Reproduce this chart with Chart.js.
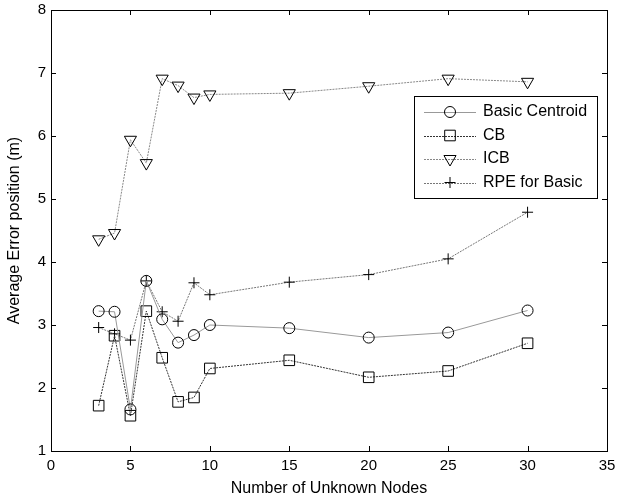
<!DOCTYPE html>
<html>
<head>
<meta charset="utf-8">
<script src="https://cdn.jsdelivr.net/npm/chart.js@4"></script>
<style>
  html, body { margin: 0; padding: 0; background: #fff; }
  #wrap { width: 617px; height: 498px; }
</style>
</head>
<body>
<div id="wrap"><canvas id="chart" width="617" height="498"></canvas></div>
<script>
// 未知节点数量
const nodeCounts = [3, 4, 5, 6, 7, 8, 9, 10, 15, 20, 25, 30];
// 各算法平均定位误差 (m)
const basicCentroid = [3.22, 3.21, 1.66, 3.70, 3.09, 2.72, 2.84, 3.00, 2.95, 2.80, 2.88, 3.23];
const cbError = [1.72, 2.83, 1.56, 3.22, 2.48, 1.78, 1.85, 2.31, 2.44, 2.17, 2.27, 2.71];
const icbError = [4.36, 4.46, 5.94, 5.57, 6.91, 6.80, 6.61, 6.66, 6.68, 6.79, 6.91, 6.86];
const rpeBasic = [2.96, 2.86, 2.76, 3.70, 3.21, 3.06, 3.67, 3.48, 3.68, 3.80, 4.05, 4.79];
const seriesNames = ['Basic Centroid', 'CB', 'ICB', 'RPE for Basic'];
const xTicks = [0, 5, 10, 15, 20, 25, 30, 35];
const yTicks = [1, 2, 3, 4, 5, 6, 7, 8];

const FONT = 'Liberation Sans, Arial, sans-serif';

const toPoints = vals => vals.map((v, i) => ({ x: nodeCounts[i], y: v }));

// MATLAB 风格：黑色空心标记 + 细线
const makeSet = (label, vals, opts) => Object.assign({
    label,
    data: toPoints(vals),
    showLine: true,
    borderWidth: 1,
    pointBorderColor: '#000',
    pointBackgroundColor: 'rgba(0,0,0,0)',
    pointBorderWidth: 1,
    pointHoverRadius: 0,
    tension: 0
}, opts);

const datasets = [
    makeSet(seriesNames[0], basicCentroid, { borderColor: '#999', pointStyle: 'circle', pointRadius: 5.5 }),
    makeSet(seriesNames[1], cbError, { borderColor: '#333', borderDash: [2, 1], pointStyle: 'rect', pointRadius: 7.5 }),
    makeSet(seriesNames[2], icbError, { borderColor: '#888', borderDash: [2, 1], pointStyle: 'triangle', pointRotation: 180, pointRadius: 7 }),
    makeSet(seriesNames[3], rpeBasic, { borderColor: '#777', borderDash: [2, 1], pointStyle: 'cross', pointRadius: 5.5 })
];

// 坐标框和向内的刻度线
const framePlugin = {
    id: 'frame',
    beforeDatasetsDraw(chart) {
        const { ctx, chartArea: a, scales } = chart;
        ctx.save();
        ctx.strokeStyle = '#000';
        ctx.lineWidth = 1;
        ctx.beginPath();
        const tl = 5;
        xTicks.forEach(t => {
            const px = Math.round(scales.x.getPixelForValue(t)) + 0.5;
            ctx.moveTo(px, a.bottom); ctx.lineTo(px, a.bottom - tl);
            ctx.moveTo(px, a.top); ctx.lineTo(px, a.top + tl);
        });
        yTicks.forEach(t => {
            const py = Math.round(scales.y.getPixelForValue(t)) + 0.5;
            ctx.moveTo(a.left, py); ctx.lineTo(a.left + tl, py);
            ctx.moveTo(a.right, py); ctx.lineTo(a.right - tl, py);
        });
        ctx.stroke();
        ctx.strokeRect(Math.round(a.left) + 0.5, Math.round(a.top) + 0.5,
            Math.round(a.right - a.left), Math.round(a.bottom - a.top));
        ctx.restore();
    }
};

// 图例：线段 + 空心标记 + 文字
const legendPlugin = {
    id: 'matlabLegend',
    afterDatasetsDraw(chart) {
        const { ctx } = chart;
        const box = { x: 414, y: 96, w: 183, h: 102 };
        ctx.save();
        ctx.fillStyle = '#fff';
        ctx.fillRect(box.x, box.y, box.w, box.h);
        ctx.strokeStyle = '#000';
        ctx.lineWidth = 1;
        ctx.strokeRect(box.x + 0.5, box.y + 0.5, box.w, box.h);
        ctx.font = '16px ' + FONT;
        ctx.textBaseline = 'middle';
        chart.data.datasets.forEach((ds, i) => {
            const cy = box.y + 16 + i * 23.5;
            ctx.save();
            ctx.strokeStyle = ds.borderColor;
            ctx.setLineDash(ds.borderDash || []);
            ctx.beginPath();
            ctx.moveTo(box.x + 10, Math.round(cy) + 0.5);
            ctx.lineTo(box.x + 62, Math.round(cy) + 0.5);
            ctx.stroke();
            ctx.restore();
            ctx.save();
            ctx.strokeStyle = '#000';
            ctx.fillStyle = 'rgba(0,0,0,0)';
            ctx.lineWidth = 1;
            Chart.helpers.drawPoint(ctx, {
                pointStyle: ds.pointStyle,
                rotation: ds.pointRotation || 0,
                radius: ds.pointRadius,
                borderWidth: 1
            }, box.x + 36, cy);
            ctx.restore();
            ctx.fillStyle = '#000';
            ctx.fillText(ds.label, box.x + 69, cy);
        });
        ctx.restore();
    }
};

const tickFont = { family: FONT, size: 15 };
const titleFont = { family: FONT, size: 16 };

new Chart(document.getElementById('chart'), {
    type: 'scatter',
    data: { datasets },
    options: {
        responsive: false,
        animation: false,
        devicePixelRatio: 1,
        layout: { padding: { top: 10, right: 10, left: 0, bottom: 0 } },
        plugins: {
            legend: { display: false },
            tooltip: { enabled: false }
        },
        scales: {
            x: {
                type: 'linear',
                min: 0, max: 35,
                afterBuildTicks: s => { s.ticks = xTicks.map(v => ({ value: v })); },
                afterFit: s => { s.height = 47; s.paddingLeft = 0; s.paddingRight = 0; },
                grid: { display: false, drawTicks: false },
                border: { display: false },
                ticks: { color: '#000', font: tickFont, padding: 6, maxRotation: 0 },
                title: { display: true, text: 'Number of Unknown Nodes', color: '#000', font: titleFont, padding: { bottom: 0 } }
            },
            y: {
                type: 'linear',
                min: 1, max: 8,
                afterBuildTicks: s => { s.ticks = yTicks.map(v => ({ value: v })); },
                afterFit: s => { s.width = 51; s.paddingTop = 0; s.paddingBottom = 0; },
                grid: { display: false, drawTicks: false },
                border: { display: false },
                ticks: { color: '#000', font: tickFont, padding: 5 },
                title: { display: true, text: 'Average Error position (m)', color: '#000', font: titleFont, padding: { top: 5 } }
            }
        }
    },
    plugins: [framePlugin, legendPlugin]
});
</script>
</body>
</html>
